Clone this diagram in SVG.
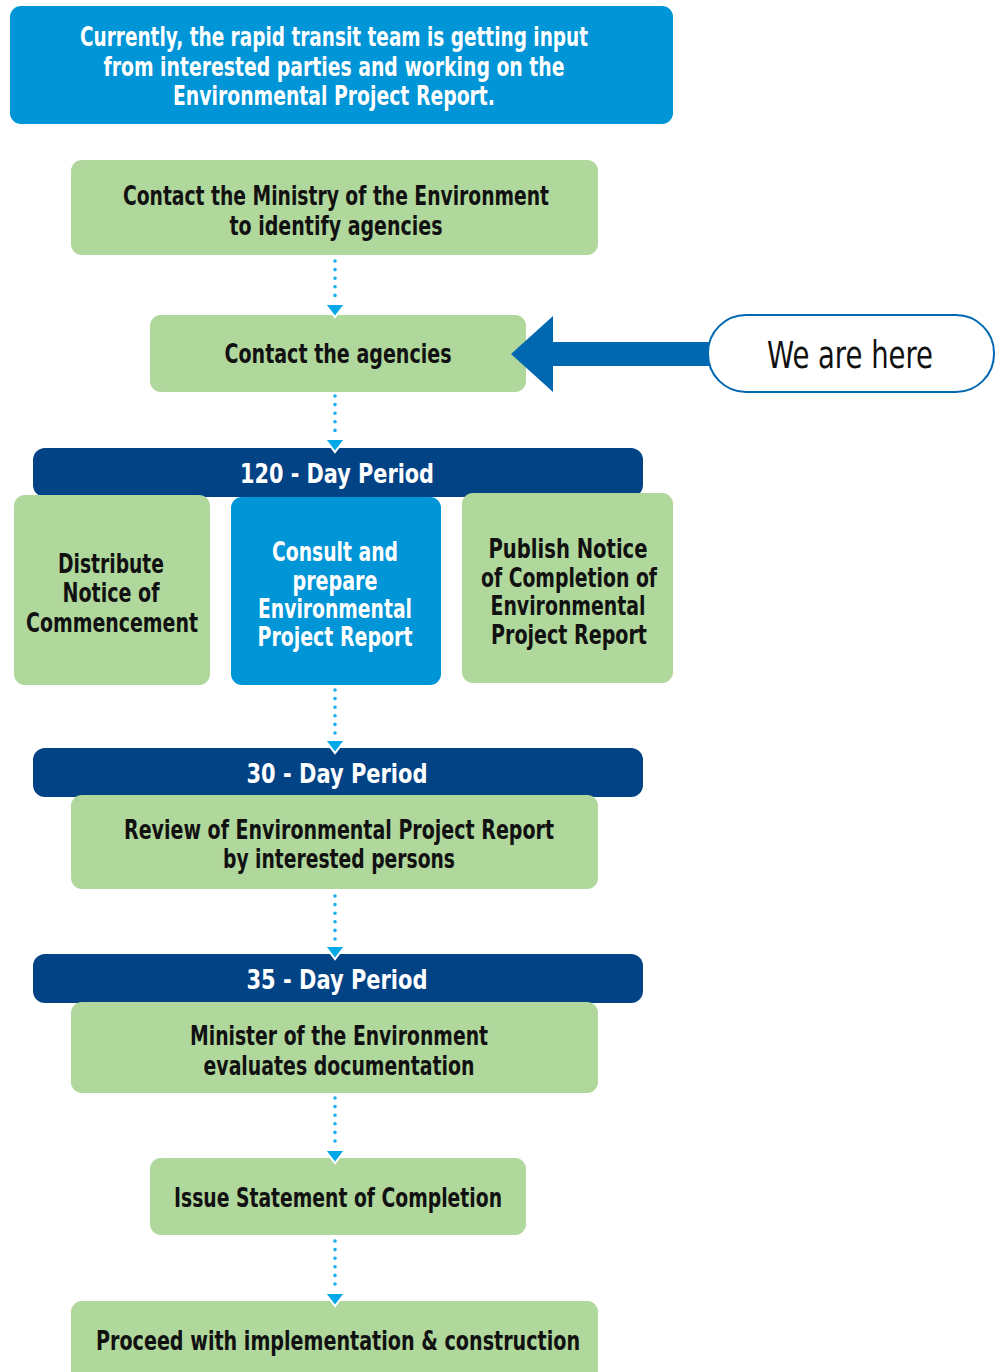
<svg xmlns="http://www.w3.org/2000/svg" width="995" height="1372" viewBox="0 0 995 1372">
  <defs>
    <style>
      .green { fill: #b0d79c; }
      .blue { fill: #0095d6; }
      .band { fill: #024386; }
      .t { font-family: "Liberation Sans Narrow", "DejaVu Sans Condensed", "Liberation Sans", sans-serif; font-weight: bold; font-size: 27px; text-anchor: middle; }
      .dk { fill: #111111; }
      .wt { fill: #ffffff; }
      .conn { stroke: #1aaeea; stroke-width: 3.6; stroke-linecap: round; stroke-dasharray: 0 8.6; fill: none; }
      .head { fill: #00a8e8; stroke: #ffffff; stroke-width: 2; stroke-linejoin: miter; }
    </style>
  </defs>

  <rect width="995" height="1372" fill="#ffffff"/>

  <!-- status banner -->
  <g id="status">
    <rect class="blue" x="10" y="6" width="663" height="118" rx="11"/>
    <text class="t wt" x="334" y="46" textLength="508" lengthAdjust="spacingAndGlyphs">Currently, the rapid transit team is getting input</text>
    <text class="t wt" x="334" y="76" textLength="461" lengthAdjust="spacingAndGlyphs">from interested parties and working on the</text>
    <text class="t wt" x="334" y="105" textLength="322" lengthAdjust="spacingAndGlyphs">Environmental Project Report.</text>
  </g>

  <g id="contact-ministry">
    <rect class="green" x="71" y="160" width="527" height="95" rx="11"/>
    <text class="t dk" x="336" y="205" textLength="426" lengthAdjust="spacingAndGlyphs">Contact the Ministry of the Environment</text>
    <text class="t dk" x="336" y="235" textLength="213" lengthAdjust="spacingAndGlyphs">to identify agencies</text>
  </g>

  <g id="contact-agencies">
    <rect class="green" x="150" y="315" width="376" height="77" rx="11"/>
    <text class="t dk" x="338" y="363" textLength="227" lengthAdjust="spacingAndGlyphs">Contact the agencies</text>
  </g>

  <!-- position marker -->
  <g id="we-are-here">
    <polygon points="511,354 553,316 553,342 710,342 710,366 553,366 553,392" fill="#0067b1"/>
    <rect x="708" y="315" width="286" height="77" rx="38" fill="#ffffff" stroke="#0067b1" stroke-width="2"/>
    <text x="850" y="368" font-family="Liberation Sans Narrow, DejaVu Sans Condensed, Liberation Sans, sans-serif" font-size="37" text-anchor="middle" fill="#111111" textLength="166" lengthAdjust="spacingAndGlyphs">We are here</text>
  </g>

  <g id="period-120">
    <rect class="band" x="33" y="448" width="610" height="49" rx="12"/>
    <text class="t wt" x="337" y="483" textLength="194" lengthAdjust="spacingAndGlyphs">120 - Day Period</text>
  </g>

  <g id="distribute-notice">
    <rect class="green" x="14" y="495" width="196" height="190" rx="11"/>
    <text class="t dk" x="111" y="573" textLength="106" lengthAdjust="spacingAndGlyphs">Distribute</text>
    <text class="t dk" x="111" y="602" textLength="97" lengthAdjust="spacingAndGlyphs">Notice of</text>
    <text class="t dk" x="112" y="632" textLength="172" lengthAdjust="spacingAndGlyphs">Commencement</text>
  </g>

  <g id="consult-prepare">
    <rect class="blue" x="231" y="497" width="210" height="188" rx="11"/>
    <text class="t wt" x="335" y="561" textLength="126" lengthAdjust="spacingAndGlyphs">Consult and</text>
    <text class="t wt" x="335" y="590" textLength="85" lengthAdjust="spacingAndGlyphs">prepare</text>
    <text class="t wt" x="335" y="618" textLength="154" lengthAdjust="spacingAndGlyphs">Environmental</text>
    <text class="t wt" x="335" y="646" textLength="155" lengthAdjust="spacingAndGlyphs">Project Report</text>
  </g>

  <g id="publish-notice">
    <rect class="green" x="462" y="493" width="211" height="190" rx="11"/>
    <text class="t dk" x="568" y="558" textLength="159" lengthAdjust="spacingAndGlyphs">Publish Notice</text>
    <text class="t dk" x="569" y="587" textLength="176" lengthAdjust="spacingAndGlyphs">of Completion of</text>
    <text class="t dk" x="568" y="615" textLength="155" lengthAdjust="spacingAndGlyphs">Environmental</text>
    <text class="t dk" x="569" y="644" textLength="156" lengthAdjust="spacingAndGlyphs">Project Report</text>
  </g>

  <g id="period-30">
    <rect class="band" x="33" y="748" width="610" height="49" rx="12"/>
    <text class="t wt" x="337" y="783" textLength="181" lengthAdjust="spacingAndGlyphs">30 - Day Period</text>
  </g>

  <g id="review-report">
    <rect class="green" x="71" y="795" width="527" height="94" rx="11"/>
    <text class="t dk" x="339" y="839" textLength="430" lengthAdjust="spacingAndGlyphs">Review of Environmental Project Report</text>
    <text class="t dk" x="339" y="868" textLength="232" lengthAdjust="spacingAndGlyphs">by interested persons</text>
  </g>

  <g id="period-35">
    <rect class="band" x="33" y="954" width="610" height="49" rx="12"/>
    <text class="t wt" x="337" y="989" textLength="181" lengthAdjust="spacingAndGlyphs">35 - Day Period</text>
  </g>

  <g id="minister-evaluates">
    <rect class="green" x="71" y="1002" width="527" height="91" rx="11"/>
    <text class="t dk" x="339" y="1045" textLength="298" lengthAdjust="spacingAndGlyphs">Minister of the Environment</text>
    <text class="t dk" x="339" y="1075" textLength="271" lengthAdjust="spacingAndGlyphs">evaluates documentation</text>
  </g>

  <g id="issue-statement">
    <rect class="green" x="150" y="1158" width="376" height="77" rx="11"/>
    <text class="t dk" x="338" y="1207" textLength="328" lengthAdjust="spacingAndGlyphs">Issue Statement of Completion</text>
  </g>

  <g id="proceed">
    <rect class="green" x="71" y="1301" width="527" height="90" rx="11"/>
    <text class="t dk" x="338" y="1350" textLength="484" lengthAdjust="spacingAndGlyphs">Proceed with implementation &amp; construction</text>
  </g>

  <!-- dotted connectors with arrowheads -->
  <g id="connectors">
    <line class="conn" x1="335" y1="261" x2="335" y2="303"/>
    <polygon class="head" points="325,304 345,304 335,317"/>
    <line class="conn" x1="335" y1="396" x2="335" y2="438"/>
    <polygon class="head" points="325,439 345,439 335,452"/>
    <line class="conn" x1="335" y1="690" x2="335" y2="738"/>
    <polygon class="head" points="325,740 345,740 335,753"/>
    <line class="conn" x1="335" y1="896" x2="335" y2="944"/>
    <polygon class="head" points="325,946 345,946 335,959"/>
    <line class="conn" x1="335" y1="1098" x2="335" y2="1148"/>
    <polygon class="head" points="325,1150 345,1150 335,1163"/>
    <line class="conn" x1="335" y1="1241" x2="335" y2="1291"/>
    <polygon class="head" points="325,1293 345,1293 335,1306"/>
  </g>
</svg>
